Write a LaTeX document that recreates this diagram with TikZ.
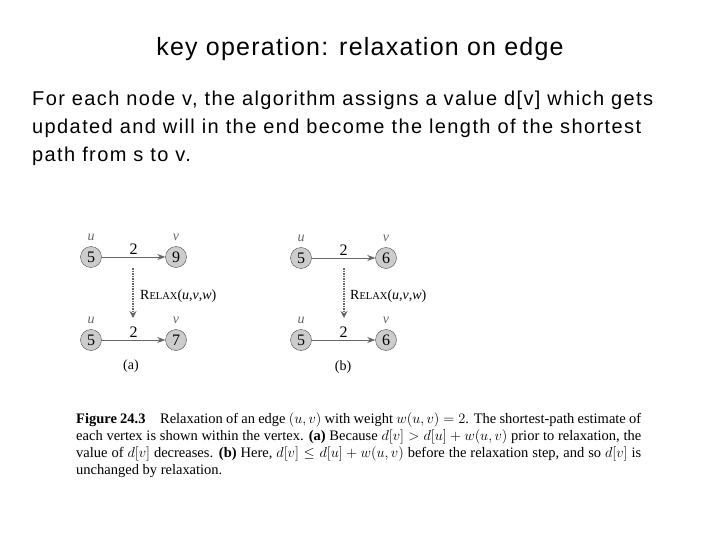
\documentclass[tikz,border=0pt]{standalone}
\usepackage{fontspec}
\setmainfont{Liberation Sans}
\newfontfamily\capfont{Liberation Serif}
\usetikzlibrary{arrows.meta}
\begin{document}
\begin{tikzpicture}[x=1pt,y=-1pt,
  vtx/.style={circle,draw=black!70,fill=black!20,minimum size=21pt,inner sep=0pt,font=\capfont\fontsize{16}{16}\selectfont},
  lbl/.style={font=\capfont\itshape\fontsize{14}{14}\selectfont,text=black!60},
  edge/.style={draw=black!60,thick,-{Stealth[length=8pt,width=6pt]}},
  wt/.style={above=-1pt,font=\capfont\fontsize{16}{16}\selectfont},
  relax/.style={draw=black!60,line width=2.5pt,dash pattern=on 1.5pt off 1pt,-{Stealth[length=7pt,width=7pt]}},
  rtext/.style={font=\capfont\fontsize{14}{14}\selectfont,anchor=west,inner sep=0pt},
  sub/.style={font=\capfont\fontsize{14}{14}\selectfont}]
\useasboundingbox (0,0) rectangle (720,540);
\newcommand\myrelax{R{\fontsize{10.5}{10.5}\selectfont ELAX}(\textit{u},\textit{v},\textit{w})}
\node[font=\fontsize{25}{28}\selectfont\addfontfeature{LetterSpace=5}] (title) at (360,49) {key operation: relaxation on edge};
\node[font=\fontsize{20}{28}\selectfont\addfontfeature{LetterSpace=7},anchor=north west,align=left,inner sep=0pt] (body) at (32,91)
 {For each node v, the algorithm assigns a value d[v] which gets\\updated and will in the end become the length of the shortest\\path from s to v.};
% (a)
\node[vtx] (au1) at (91,257) {5}; \node[vtx] (av1) at (176,257) {9};
\node[vtx] (au2) at (91,340) {5}; \node[vtx] (av2) at (176,340) {7};
\node[lbl] (lau1) at (91,237) {u}; \node[lbl] (lav1) at (176,237) {v};
\node[lbl] (lau2) at (91,320) {u}; \node[lbl] (lav2) at (176,320) {v};
\draw[edge] (au1) -- node[wt] (w1) {2} (av1);
\draw[edge] (au2) -- node[wt] (w2) {2} (av2);
\coordinate (ar1) at (133,268); \coordinate (ar2) at (133,318);
\draw[relax] (ar1) -- (ar2);
\node[rtext] (rt1) at (140,296) {\myrelax};
\node[sub] (la) at (131,366) {(a)};
% (b)
\node[vtx] (bu1) at (301,258) {5}; \node[vtx] (bv1) at (386,258) {6};
\node[vtx] (bu2) at (301,340) {5}; \node[vtx] (bv2) at (386,340) {6};
\node[lbl] (lbu1) at (301,238) {u}; \node[lbl] (lbv1) at (386,238) {v};
\node[lbl] (lbu2) at (301,320) {u}; \node[lbl] (lbv2) at (386,320) {v};
\draw[edge] (bu1) -- node[wt] (w3) {2} (bv1);
\draw[edge] (bu2) -- node[wt] (w4) {2} (bv2);
\coordinate (br1) at (344,268); \coordinate (br2) at (344,318);
\draw[relax] (br1) -- (br2);
\node[rtext] (rt2) at (350,296) {\myrelax};
\node[sub] (lb) at (343,367) {(b)};
% caption
\node[anchor=north west,inner sep=0pt,text width=565pt,align=justify,font=\capfont\fontsize{14.5}{17}\selectfont] (cap) at (76,412)
 {\textbf{Figure 24.3}\quad Relaxation of an edge $(u,v)$ with weight $w(u,v)=2$. The shortest-path estimate of\linebreak each vertex is shown within the vertex. \textbf{(a)} Because $d[v]>d[u]+w(u,v)$ prior to relaxation, the\linebreak value of $d[v]$ decreases. \textbf{(b)} Here, $d[v]\le d[u]+w(u,v)$ before the relaxation step, and so $d[v]$ is\linebreak unchanged by relaxation.};
\end{tikzpicture}
\end{document}
